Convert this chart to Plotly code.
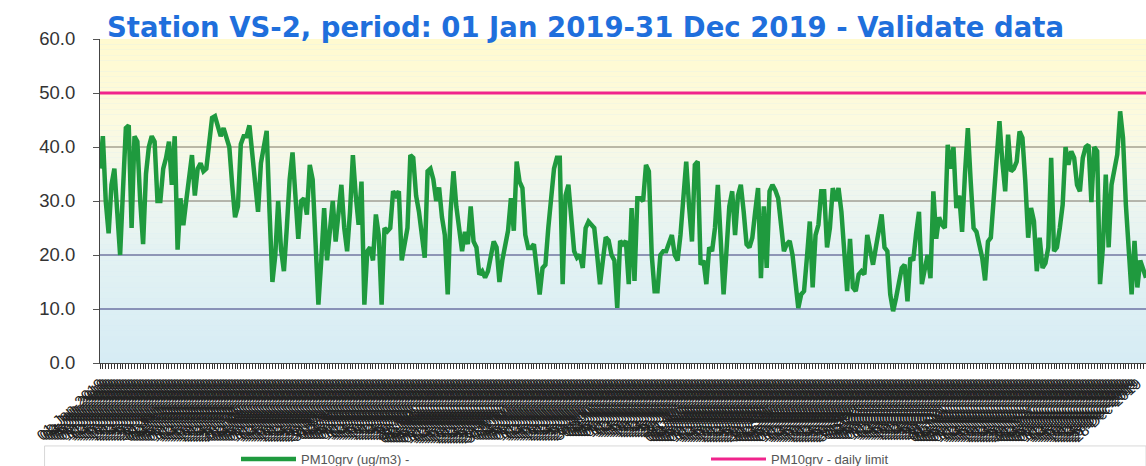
import datetime as dt
import plotly.graph_objects as go

# ---- data (daily PM10, 2019) ----
start_date = "2019-01-01"
pm10_values = [
    # Jan - early Feb
    36, 42, 30, 24, 33, 36, 28, 20, 32, 43.5, 44, 25, 42, 41, 30, 22, 35, 40, 42, 41,
    30, 30, 36, 38, 41, 33, 42, 21, 30.5, 25.5, 30, 34, 38.5, 31, 36, 37,
    # Feb - Mar
    35.5, 36, 40, 45.4, 45.7, 44, 42, 43.5, 42, 40, 33, 27, 29, 40.5, 42, 42, 44, 38, 32.5, 28,
    37, 40.5, 43, 28, 15, 20, 30, 21, 17, 25, 34, 39, 31, 23, 30, 30.5, 27.5,
    # Mar - Apr
    36.7, 34, 20.7, 10.8, 19, 28.7, 19, 25, 30, 22.5, 29, 33, 25, 20.7, 28, 38.5, 31, 25.6, 33.6, 10.8,
    20.7, 21.4, 19, 27.5, 23.7, 10.8, 25, 24.4, 25, 31.8, 31, 31.8, 19, 22, 25, 38.5, 38,
    # Apr - May
    31, 28, 23.7, 19.5, 35.5, 36, 34, 30, 32.5, 27, 23.7, 12.7, 28, 35.5, 29, 25, 20.7, 24.3, 22, 29,
    22.5, 21.4, 16.4, 17, 15.8, 17, 19.4, 22.5, 21.4, 15, 19, 22, 24.5, 30.5, 24.5, 37.3, 33.6,
    # May - Jun
    32.4, 23.7, 21.3, 21.3, 22, 16.4, 12.7, 17.6, 18.2, 25, 31, 36, 38, 38, 14.6, 31, 33, 27, 20.7, 19.5,
    20, 17.6, 25, 26.2, 25.6, 25, 20, 14.6, 19, 23.3, 22.7, 20, 19, 10.2, 22.6, 22, 22.6,
    # Jun - Jul
    14.6, 28.7, 15.2, 30.5, 30.5, 30, 36.7, 35.5, 20, 13.3, 13.3, 20, 20.7, 20.7, 22, 23.7, 20, 19, 23.7, 31,
    37.3, 29, 22.5, 36.7, 37.3, 18.2, 19, 14.6, 21.4, 20.7, 25, 33, 21.4, 12.7, 20.7, 29,
    # Aug - Sep
    31.8, 23.7, 31, 33, 28, 22, 21.4, 23.2, 28, 32.4, 15.7, 29, 17.6, 31.8, 33, 32, 30.5, 26.2, 20.7, 22,
    22.6, 20, 14.6, 10.2, 12.7, 13.3, 19.5, 26.2, 14, 23.7, 25.6, 31.8, 31.8, 21.4, 25, 32.4, 30,
    # Sep - Oct
    32.4, 28, 20, 13.3, 23, 14, 13.3, 16.4, 17, 16.4, 23.7, 21.4, 18.2, 21.4, 25, 27.5, 21.4, 20.7, 12.7, 9.6,
    12, 15.2, 17.6, 18.2, 11.4, 19.5, 19, 24, 28, 14.6, 17, 20, 15.7, 31.8, 23, 27,
    # Oct - Nov
    25.6, 25, 40.4, 36, 40, 28.7, 31, 24.3, 35, 43.5, 33.6, 25, 24.3, 21.4, 19.5, 15.3, 22.5, 23.2, 30, 36.7,
    44.8, 37.3, 31.8, 42.3, 35.5, 36, 37.3, 42.9, 41.7, 33.6, 23.2, 28.7, 26.3, 17, 23.2, 17.6, 18.5,
    # Nov - Dec
    21.4, 38, 20.7, 21.4, 25, 29.3, 40, 36.7, 39.2, 38, 33, 31.8, 38, 40, 40.4, 29.8, 40, 39.2, 14.6, 21.4,
    34.9, 21.4, 33, 36, 38.6, 46.6, 41.7, 29.3, 20, 12.7, 22.6, 14, 19, 17.6, 15.8,
]
daily_limit = 50.0
y_ticks = [0, 10, 20, 30, 40, 50, 60]
grid_values = [10, 20, 30, 40]
grid_colors = ["#34347a", "#3a3a78", "#7a7468", "#7c7666"]
series_names = ["PM10grv (ug/m3) -", "PM10grv - daily limit"]
title_text = "Station VS-2, period: 01 Jan 2019-31 Dec 2019 - Validate data"

d0 = dt.date.fromisoformat(start_date)
dates = [d0 + dt.timedelta(days=i) for i in range(len(pm10_values))]
limit_values = [daily_limit] * len(dates)

W, H = 1146, 466

fig = go.Figure()
fig.add_trace(go.Scatter(x=dates, y=pm10_values, mode="lines", name=series_names[0],
                         line=dict(color="#1f9a3e", width=4.5), legend="legend"))
fig.add_trace(go.Scatter(x=dates, y=limit_values, mode="lines", name=series_names[1],
                         line=dict(color="#f0248c", width=3), legend="legend2"))

# background gradient (yellow top -> light blue bottom)
stops = [(60, (255, 250, 208)), (45, (253, 250, 222)), (35, (242, 247, 236)),
         (20, (227, 242, 243)), (0, (214, 236, 244))]
def col_at(v):
    for (a, ca), (b, cb) in zip(stops[:-1], stops[1:]):
        if b <= v <= a:
            t = (a - v) / (a - b)
            return "rgb(%d,%d,%d)" % tuple(round(ca[k] + (cb[k] - ca[k]) * t) for k in range(3))
    return "rgb(214,236,244)"
shapes = []
n_bands = 60
for i in range(n_bands):
    lo = 60 * i / n_bands
    hi = 60 * (i + 1) / n_bands
    shapes.append(dict(type="rect", xref="paper", yref="y", x0=0, x1=1, y0=lo, y1=hi,
                       fillcolor=col_at((lo + hi) / 2), line=dict(width=0), layer="below"))
# horizontal grid lines
for gv, gc in zip(grid_values, grid_colors):
    shapes.append(dict(type="line", xref="paper", yref="y", x0=0, x1=1, y0=gv, y1=gv,
                       line=dict(color=gc, width=1), layer="below"))
# legend box (white strip with faint top border)
shapes.append(dict(type="rect", xref="paper", yref="paper", x0=-0.053, x1=1.0,
                   y0=-0.33, y1=-0.256, fillcolor="white",
                   line=dict(color="#d8d8d8", width=1), layer="above"))
fig.update_layout(shapes=shapes)

legend_common = dict(orientation="h", xanchor="left", xref="container", yref="container",
                     y=1 - 459 / H, yanchor="middle",
                     bgcolor="rgba(0,0,0,0)", font=dict(family="Arial", size=13, color="#555555"),
                     itemwidth=55)
fig.update_layout(
    width=W, height=H,
    margin=dict(l=100, r=0, t=39, b=103),
    paper_bgcolor="white", plot_bgcolor="rgb(214,236,244)",
    title=dict(text=title_text, x=107 / W, xref="container", xanchor="left",
               y=1 - 27 / H, yref="container", yanchor="middle",
               font=dict(family="DejaVu Sans", size=27.5, color="#1f6fdc", weight="bold")),
    showlegend=True,
    legend=dict(x=236 / W, **legend_common),
    legend2=dict(x=706 / W, **legend_common),
)
fig.update_xaxes(
    type="date", automargin=False,
    range=[dates[0] - dt.timedelta(hours=8), dates[-1] + dt.timedelta(hours=2)],
    dtick=86400000, tick0=start_date, tickformat="%d-%b-%Y", tickangle=-42,
    tickfont=dict(family="Arial", size=15, color="#222222"),
    ticks="outside", ticklen=5, tickcolor="#333333", tickwidth=1,
    showgrid=False, showline=True, linecolor="#444444", linewidth=1,
)
fig.update_yaxes(
    automargin=False,
    range=[0, 60], tickvals=y_ticks, tickformat=".1f",
    tickfont=dict(family="Arial", size=18.5, color="#333333"),
    ticks="outside", ticklen=6, tickcolor="#555555", ticklabelstandoff=14,
    showgrid=False,
    showline=True, linecolor="#444444", linewidth=1, zeroline=False,
)

fig.write_html("out.html", config={"displayModeBar": False},
               post_script="document.body.style.margin='0';")
